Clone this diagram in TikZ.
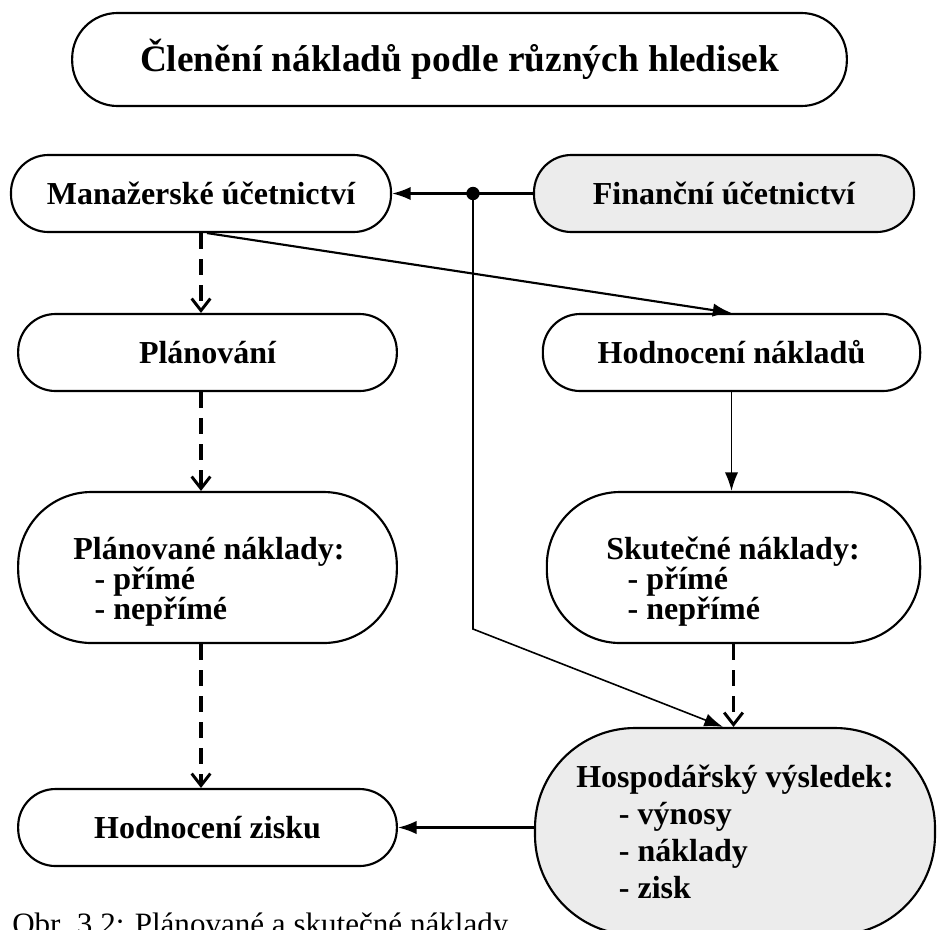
\documentclass[tikz,border=0pt]{standalone}
\usepackage{fontspec}
\setmainfont{Liberation Serif}
\usetikzlibrary{arrows.meta}

\begin{document}
\begin{tikzpicture}[x=0.75pt,y=-0.75pt,
  box/.style={draw,line width=1.6pt,rounded corners=28pt,minimum width=285pt,minimum height=57.75pt,inner sep=0pt,font=\fontsize{24}{27}\selectfont\bfseries},
  bigbox/.style={box,rounded corners=55pt,minimum height=113.25pt},
  listtext/.style={align=left,inner sep=0pt,font=\fontsize{24}{22.5}\selectfont\bfseries},
  shaded/.style={fill=gray!15},
  solidarrow/.style={line width=1.6pt,-{Latex[length=14pt,width=10pt]}},
  dasharrow/.style={line width=2.8pt,dash pattern=on 12pt off 7.5pt,-{Straight Barb[length=9pt,width=14pt,line width=2.2pt]}}]
  \useasboundingbox (0,0) rectangle (937,929);
  % Title
  \node[box,rounded corners=34pt,minimum width=581pt,minimum height=69.75pt,font=\fontsize{28}{32}\selectfont\bfseries] (title) at (459.5,59.5) {Členění nákladů podle různých hledisek};
  % Top row
  \node[box] (mana) at (201,193.5) {Manažerské účetnictví};
  \node[box,shaded] (fin) at (724,193.5) {Finanční účetnictví};
  % Second row
  \node[box,minimum width=284pt] (plan) at (207.5,352.5) {Plánování};
  \node[box,minimum width=283pt] (hodn) at (731.5,352.5) {Hodnocení nákladů};
  % Cost boxes
  \node[bigbox,minimum width=284pt] (plnak) at (207.5,567.5) {};
  \node[listtext] (plnaktext) at (209,582) {Plánované náklady:\\\hspace*{16pt}- přímé\\\hspace*{16pt}- nepřímé};
  \node[bigbox,minimum width=280pt] (sknak) at (733.5,567.5) {};
  \node[listtext] (sknaktext) at (733,582) {Skutečné náklady:\\\hspace*{16pt}- přímé\\\hspace*{16pt}- nepřímé};
  % Bottom row
  \node[box,minimum width=284pt] (zisk) at (207.5,827.5) {Hodnocení zisku};
  \node[bigbox,shaded,rounded corners=75pt,minimum width=300pt,minimum height=155.25pt,align=left,font=\fontsize{24}{27.75}\selectfont\bfseries] (hosp) at (735,831.5) {Hospodářský výsledek:\\\hspace*{32pt}- výnosy\\\hspace*{32pt}- náklady\\\hspace*{32pt}- zisk};
  % Caption
  \node[anchor=base west,inner sep=0pt,font=\fontsize{23.3}{28}\selectfont] (caption) at (12,934) {Obr. 3.2: Plánované a skutečné náklady};
  % Connectors
  \coordinate (dot) at (473,193.5);
  \coordinate (bend) at (473,629);
  \draw[solidarrow] (fin.west) -- (mana.east);
  \fill (dot) circle (5pt);
  \draw[line width=1.2pt,-{Latex[length=14pt,width=10pt]}] (dot) -- (bend) -- ([xshift=-9pt]hosp.north);
  \draw[solidarrow] ([xshift=4.5pt]mana.south) -- (hodn.north);
  \draw[dasharrow] (mana.south) -- (mana.south |- plan.north);
  \draw[dasharrow] (mana.south |- plan.south) -- (mana.south |- plnak.north);
  \draw[dasharrow] (mana.south |- plnak.south) -- (mana.south |- zisk.north);
  \draw[solidarrow,line width=1.2pt] (hodn.south) -- (hodn.south |- sknak.north);
  \draw[dasharrow] (sknak.south) -- (sknak.south |- hosp.north);
  \draw[solidarrow] (hosp.west |- zisk.east) -- (zisk.east);
\end{tikzpicture}
\end{document}
